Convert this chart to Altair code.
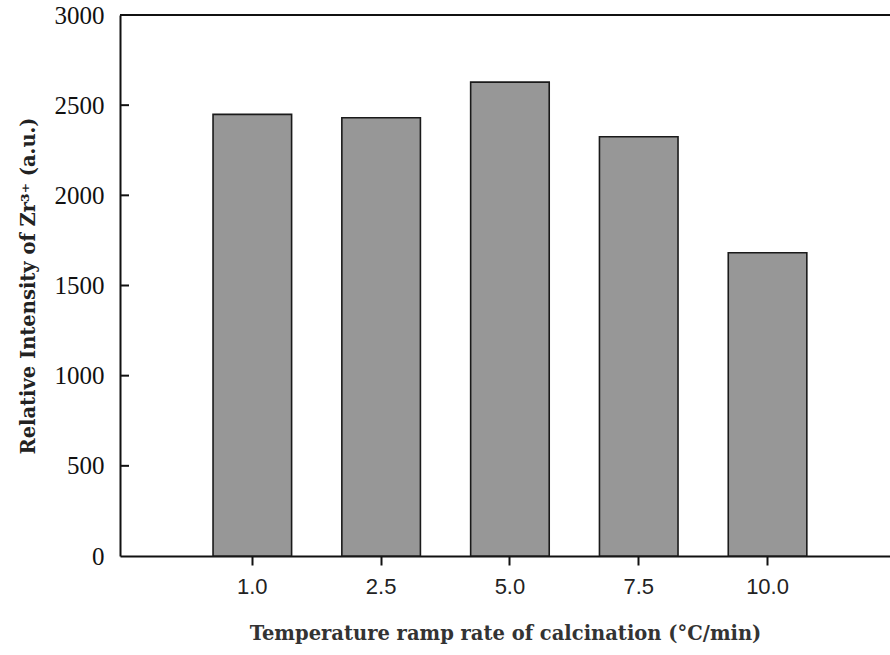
import altair as alt
import pandas as pd

# Zr3+ signal intensity versus calcination ramp rate
ramp_rates = ["1.0", "2.5", "5.0", "7.5", "10.0"]
intensity = [2449, 2430, 2628, 2325, 1682]
y_ticks = [0, 500, 1000, 1500, 2000, 2500, 3000]

bars_df = pd.DataFrame({"rate": ramp_rates, "intensity": intensity})
ticks_df = pd.DataFrame({"tick": y_ticks[1:-1]})

W, H = 770, 541
serif = "Liberation Serif"
heavy = "DejaVu Serif"
sans = "Liberation Sans"

x_enc = alt.X(
    "rate:N",
    sort=ramp_rates,
    scale=alt.Scale(paddingInner=0.39, paddingOuter=0.684, align=0.528),
    axis=alt.Axis(
        title="Temperature ramp rate of calcination (°C/min)",
        labelAngle=0,
        labelFont=sans,
        labelFontSize=22,
        labelColor="#222222",
        labelPadding=11,
        tickSize=9,
        tickWidth=2,
        tickColor="#111111",
        domainColor="#111111",
        domainWidth=2,
        titleFont=heavy,
        titleFontSize=19.5,
        titleFontWeight="bold",
        titleColor="#333333",
        titlePadding=27,
    ),
)

y_scale = alt.Scale(domain=[0, 3000], nice=False)

bars = alt.Chart(bars_df).mark_bar(
    color="#979797", stroke="#1a1a1a", strokeWidth=1.6
).encode(
    x=x_enc,
    y=alt.Y(
        "intensity:Q",
        scale=y_scale,
        axis=alt.Axis(
            title="Relative Intensity of Zr³⁺ (a.u.)",
            values=y_ticks,
            format="d",
            labelFont=serif,
            labelFontSize=25,
            labelColor="#111111",
            labelPadding=16,
            tickSize=0,
            domainColor="#111111",
            domainWidth=2,
            grid=False,
            titleFont=heavy,
            titleFontSize=19.5,
            titleFontWeight="bold",
            titleColor="#222222",
            titlePadding=16,
        ),
    ),
)

# inward-pointing ticks on the value axis
inner_ticks = alt.Chart(ticks_df).mark_rule(color="#111111", strokeWidth=2).encode(
    y=alt.Y("tick:Q", scale=y_scale),
    x=alt.value(0),
    x2=alt.value(9),
)

# top frame line
top_line = alt.Chart(ticks_df).mark_rule(color="#111111", strokeWidth=2).encode(
    y=alt.value(0),
    x=alt.value(0),
    x2=alt.value(W),
)

chart = (
    alt.layer(bars, inner_ticks, top_line)
    .properties(
        width=W,
        height=H,
        autosize=alt.AutoSizeParams(type="none"),
        padding={"left": 120, "top": 15, "right": 0, "bottom": 99},
        background="white",
    )
    .configure_view(stroke=None)
)

chart.save("out.html", embed_options={"renderer": "svg", "actions": False})
